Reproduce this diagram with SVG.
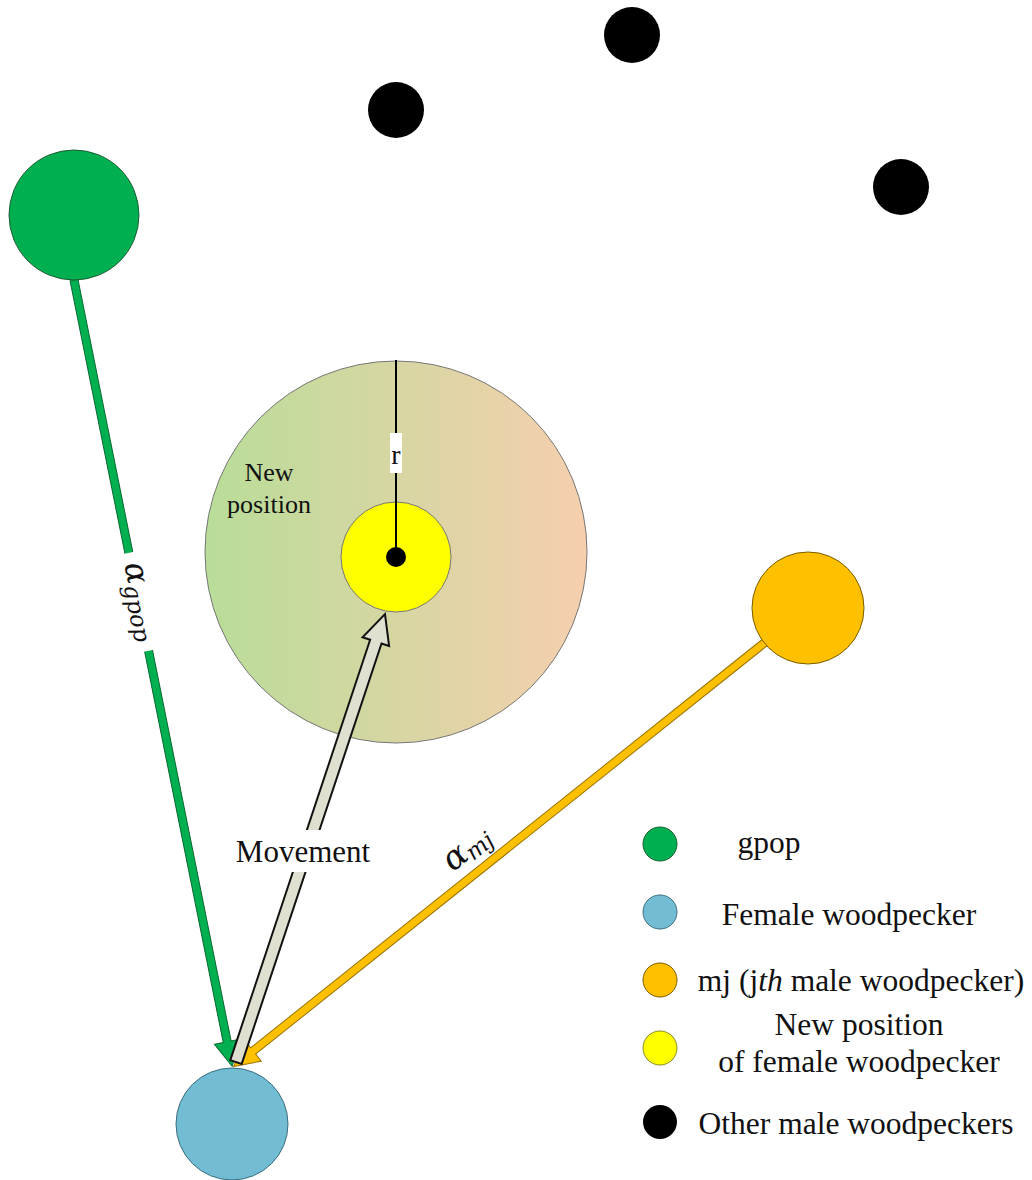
<svg xmlns="http://www.w3.org/2000/svg" width="1032" height="1180" viewBox="0 0 1032 1180">
<defs>
<linearGradient id="bg" x1="0" y1="0" x2="1" y2="0">
<stop offset="0" stop-color="#b8dd98"/>
<stop offset="1" stop-color="#f6cfae"/>
</linearGradient>
<style>
.t{font-family:"Liberation Serif","Times New Roman",serif;fill:#111}
.m{font-family:"DejaVu Serif","Liberation Serif",serif;font-style:italic;fill:#111}
.blk{fill:#000}
.lg{font-size:31.5px}
</style>
</defs>
<rect width="1032" height="1180" fill="#fff"/>
<g id="others">
<circle cx="396" cy="110" r="28" class="blk"/>
<circle cx="632" cy="35" r="28" class="blk"/>
<circle cx="901" cy="187" r="28" class="blk"/>
</g>
<g id="region">
<circle cx="396" cy="552" r="191" fill="url(#bg)" stroke="#777" stroke-width="1"/>
<text class="t" x="269" y="481" font-size="26" text-anchor="middle">New</text>
<text class="t" x="269" y="513" font-size="26" text-anchor="middle">position</text>
</g>
<g id="newpos">
<circle cx="396" cy="557" r="55" fill="#ffff00" stroke="#777" stroke-width="1"/>
<line x1="396" y1="360" x2="396" y2="557" stroke="#000" stroke-width="2"/>
<rect x="390" y="433" width="12" height="40" fill="#fff"/>
<text class="t" x="396" y="464" font-size="28" text-anchor="middle">r</text>
<circle cx="396" cy="557" r="10" class="blk"/>
</g>
<g id="connectors">
<g transform="translate(74,280) rotate(78.63)">
<polygon points="0,-4 777,-4 777,-13 802,0 777,13 777,4 0,4" fill="#00b050" stroke="#0a6a30" stroke-width="1"/>
</g>
<g transform="translate(808,608) rotate(141.4)">
<polygon points="0,-4 710,-4 710,-13 735,0 710,13 710,4 0,4" fill="#ffc000" stroke="#9a7400" stroke-width="1"/>
</g>
<g transform="translate(236,1062) rotate(-71.6)">
<polygon points="0,-6 443,-6 443,-14 472,0 443,14 443,6 0,6" fill="#e0e0d0" stroke="#111" stroke-width="2"/>
</g>
<g transform="translate(138,602) rotate(78.63)">
<rect x="-50" y="-20" width="100" height="34" fill="#fff"/>
<text class="m" x="0" y="6" font-size="32" text-anchor="middle">α<tspan font-size="23" dy="5">gpop</tspan></text>
</g>
<g transform="translate(468,850) rotate(-38.6)">
<rect x="-44" y="-22" width="88" height="36" fill="#fff"/>
<text class="m" x="0" y="8" font-size="34" text-anchor="middle">α<tspan font-size="23" dy="4">mj</tspan></text>
</g>
<rect x="230" y="830" width="146" height="42" fill="#fff"/>
<text class="t" x="303" y="862" font-size="31" text-anchor="middle">Movement</text>
</g>
<g id="gpop">
<circle cx="74" cy="215" r="65" fill="#00b050" stroke="#1d5c33" stroke-width="1"/>
</g>
<g id="mj">
<circle cx="808" cy="608" r="56" fill="#ffc000" stroke="#7a5c00" stroke-width="1"/>
</g>
<g id="female">
<circle cx="232" cy="1124" r="56" fill="#72bcd4" stroke="#3b6f80" stroke-width="1"/>
</g>
<g id="legend">
<circle cx="660" cy="844" r="17" fill="#00b050" stroke="#1d5c33" stroke-width="1"/>
<circle cx="660" cy="912" r="17" fill="#72bcd4" stroke="#3b6f80" stroke-width="1"/>
<circle cx="660" cy="980" r="17" fill="#ffc000" stroke="#7a5c00" stroke-width="1"/>
<circle cx="660" cy="1048" r="17" fill="#ffff00" stroke="#8a8a20" stroke-width="1"/>
<circle cx="660" cy="1122" r="17" class="blk"/>
<text class="t lg" x="769" y="853" text-anchor="middle">gpop</text>
<text class="t lg" x="849" y="925" text-anchor="middle">Female woodpecker</text>
<text class="t lg" x="861" y="991" text-anchor="middle">mj (j<tspan font-style="italic">th</tspan> male woodpecker)</text>
<text class="t lg" x="859" y="1035" text-anchor="middle">New position</text>
<text class="t lg" x="859" y="1072" text-anchor="middle">of female woodpecker</text>
<text class="t lg" x="856" y="1134" text-anchor="middle">Other male woodpeckers</text>
</g>
</svg>
